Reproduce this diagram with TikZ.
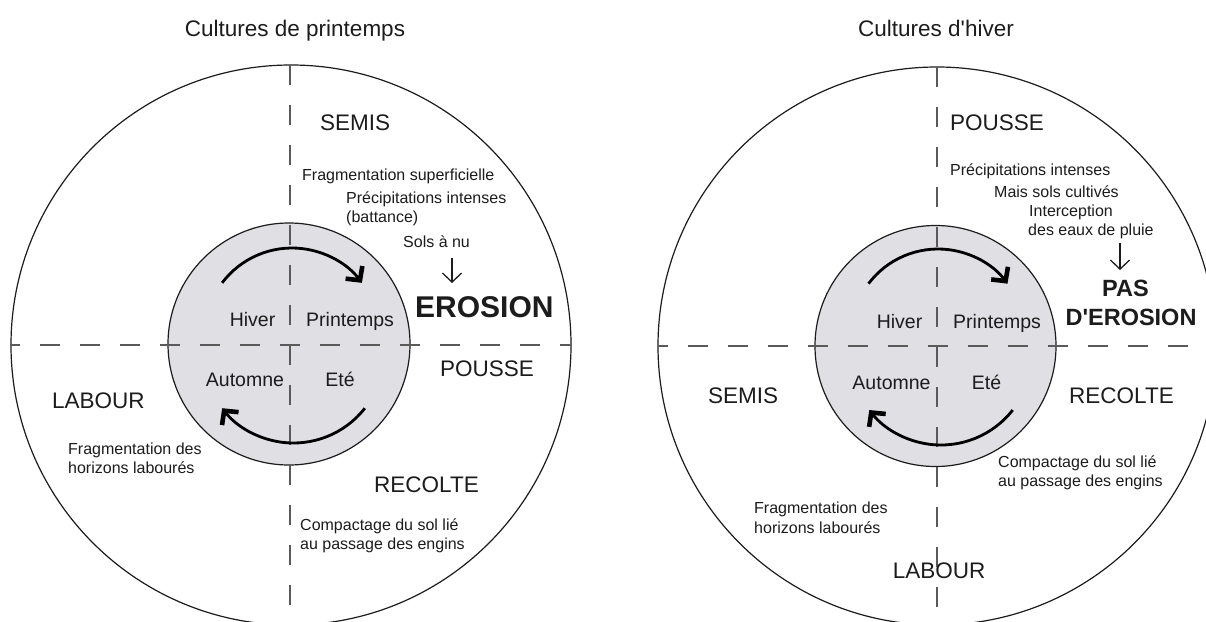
\documentclass[tikz,border=0pt]{standalone}
\usepackage{fontspec}
\setmainfont{Liberation Sans}[Ligatures=TeXOff]
\usetikzlibrary{arrows.meta}
\definecolor{innerfill}{HTML}{DFDFE4}
\definecolor{dashc}{HTML}{5A5A5A}
\definecolor{ink}{HTML}{1C1C1C}
\begin{document}
\begin{tikzpicture}[x=1pt,y=1pt,
  lbl/.style={inner sep=0pt, text=ink},
  head/.style={lbl, font=\fontsize{22.5}{27}\selectfont},
  season/.style={lbl, font=\fontsize{19.5}{23}\selectfont},
  note/.style={lbl, font=\fontsize{16}{19.5}\selectfont},
  alarm/.style={lbl, font=\bfseries\fontsize{30}{36}\selectfont},
  calm/.style={lbl, font=\bfseries\fontsize{23.5}{28}\selectfont},
  outerring/.style={draw=ink, line width=1.2pt},
  innerdisc/.style={draw=ink, fill=innerfill, line width=1.2pt},
  axisline/.style={draw=dashc, line width=1.8pt, dash pattern=on 20pt off 20pt},
  seasonarrow/.style={draw=black, line width=2.8pt, -{Straight Barb[length=10pt,width=21pt,line width=4.6pt]}},
  fallarrow/.style={draw=ink, line width=1.3pt, -{Straight Barb[length=9pt,width=19pt]}}
]
\useasboundingbox (0,0) rectangle (1206,-621);
\fill[white] (0,0) rectangle (1206,-621);
\clip (0,0) rectangle (1206,-621);

% ---------- left diagram ----------
\draw[outerring] (291,-345) circle[radius=280pt];
\draw[innerdisc] (289,-344) circle[radius=121pt];
\draw[axisline] (290,-65) -- (290,-621);
\draw[axisline, dash phase=10pt] (10,-345) -- (571,-345);
\draw[seasonarrow] ([shift={(143:87.5pt)}]292,-335.5) arc[start angle=143,end angle=37,radius=87.5pt];
\draw[seasonarrow] ([shift={(-38:90.5pt)}]293.5,-352.5) arc[start angle=-38,end angle=-142,radius=90.5pt];

\node[head, anchor=base] (t1) at (295,-36.5) {Cultures de printemps};
\node[head, anchor=base west] (sem1) at (320,-130) {SEMIS};
\node[note, anchor=base west] (frag1) at (302,-180) {Fragmentation superficielle};
\node[note, anchor=base west] (prec1) at (346,-203) {Précipitations intenses};
\node[note, anchor=base west] (batt1) at (346,-222.5) {(battance)};
\node[note, anchor=base west] (sols1) at (403,-247) {Sols à nu};
\coordinate (d1a) at (452,-258);
\coordinate (d1b) at (452,-283);
\draw[fallarrow] (d1a) -- (d1b);
\node[alarm, anchor=base west] (ero1) at (415,-317) {EROSION};
\node[season, anchor=base] (hiv1) at (252.5,-326) {Hiver};
\node[season, anchor=base west] (pri1) at (306,-326) {Printemps};
\node[season, anchor=base] (aut1) at (245,-386) {Automne};
\node[season, anchor=base] (ete1) at (340,-386) {Eté};
\node[head, anchor=base west] (pou1) at (440,-376) {POUSSE};
\node[head, anchor=base west] (lab1) at (52,-408) {LABOUR};
\node[note, anchor=base west] (hz1a) at (68,-454) {Fragmentation des};
\node[note, anchor=base west] (hz1b) at (68,-473.5) {horizons labourés};
\node[head, anchor=base west] (rec1) at (374,-492.5) {RECOLTE};
\node[note, anchor=base west] (cmp1a) at (300,-530) {Compactage du sol lié};
\node[note, anchor=base west] (cmp1b) at (300,-549.5) {au passage des engins};

% ---------- right diagram ----------
\draw[outerring] (937,-346) circle[radius=279pt];
\draw[innerdisc] (935.5,-346) circle[radius=120.5pt];
\draw[axisline] (937,-67) -- (937,-621);
\draw[axisline, dash phase=10pt] (658,-346) -- (1206,-346);
\draw[seasonarrow] ([shift={(143:87pt)}]938,-336) arc[start angle=143,end angle=37,radius=87pt];
\draw[seasonarrow] ([shift={(-38:91pt)}]941,-354) arc[start angle=-38,end angle=-142,radius=91pt];

\node[head, anchor=base] (t2) at (936,-36.5) {Cultures d'hiver};
\node[head, anchor=base west] (pou2) at (950,-130.5) {POUSSE};
\node[note, anchor=base west] (prec2) at (950,-175) {Précipitations intenses};
\node[note, anchor=base west] (mais2) at (994,-197.5) {Mais sols cultivés};
\node[note, anchor=base west] (int2) at (1029,-216) {Interception};
\node[note, anchor=base west] (eaux2) at (1028,-235) {des eaux de pluie};
\coordinate (d2a) at (1120,-243);
\coordinate (d2b) at (1120,-270);
\draw[fallarrow] (d2a) -- (d2b);
\node[calm, anchor=base] (pas2) at (1125.5,-296) {PAS};
\node[calm, anchor=base] (dero2) at (1131,-325) {D'EROSION};
\node[season, anchor=base] (hiv2) at (899.5,-328) {Hiver};
\node[season, anchor=base west] (pri2) at (953,-328) {Printemps};
\node[season, anchor=base] (aut2) at (891.5,-389) {Automne};
\node[season, anchor=base] (ete2) at (986.5,-389) {Eté};
\node[head, anchor=base west] (sem2) at (708,-403) {SEMIS};
\node[head, anchor=base west] (rec2) at (1069,-403) {RECOLTE};
\node[note, anchor=base west] (cmp2a) at (998,-467) {Compactage du sol lié};
\node[note, anchor=base west] (cmp2b) at (998,-486) {au passage des engins};
\node[note, anchor=base west] (hz2a) at (754,-513.5) {Fragmentation des};
\node[note, anchor=base west] (hz2b) at (754,-533) {horizons labourés};
\node[head, anchor=base] (lab2) at (939,-578) {LABOUR};
\end{tikzpicture}
\end{document}
